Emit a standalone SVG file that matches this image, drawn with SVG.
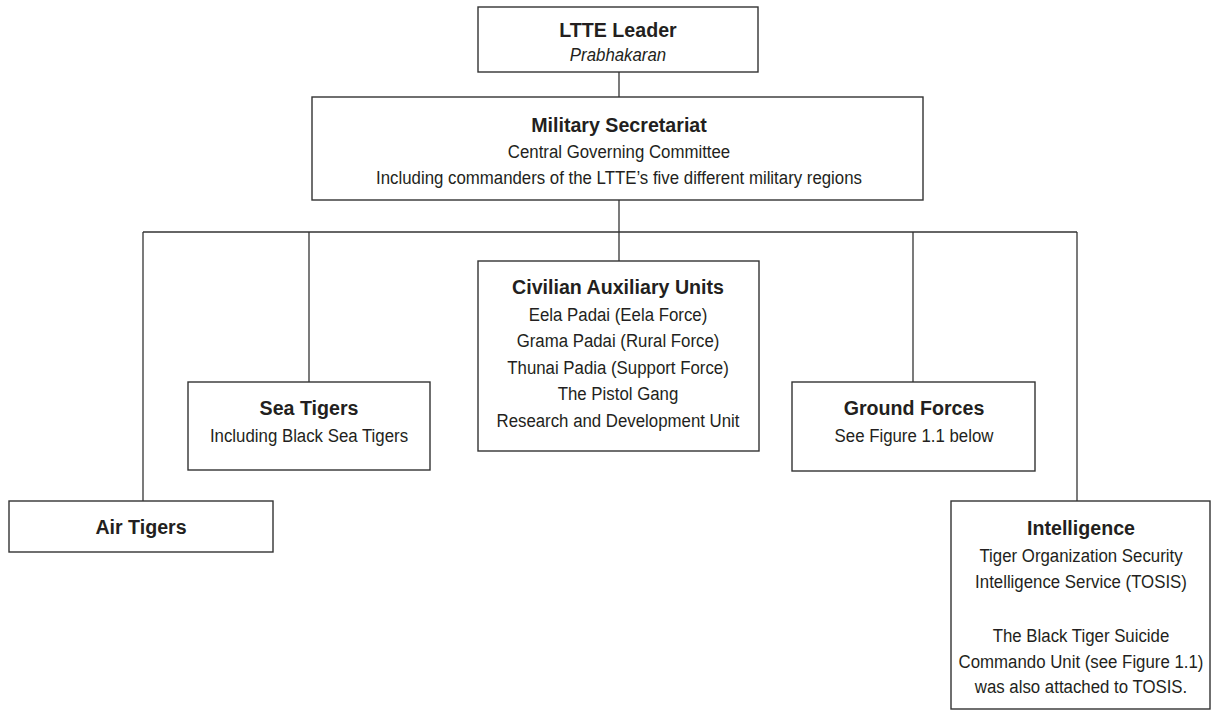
<svg xmlns="http://www.w3.org/2000/svg" width="1211" height="711" viewBox="0 0 1211 711">
<style>
rect.box{fill:#fff;stroke:#333;stroke-width:1.4}
.conn line{stroke:#333;stroke-width:1.3}
text{font-family:"Liberation Sans",Arial,sans-serif;fill:#231f20;text-anchor:middle;font-size:19px;transform:scaleX(0.885)}
text.t{font-weight:bold;font-size:21px;transform:scaleX(0.935)}
.i{font-style:italic}
</style>
<rect width="1211" height="711" fill="#fff"/>
<g class="conn">
<line x1="619" y1="72" x2="619" y2="97"/>
<line x1="619" y1="200" x2="619" y2="232"/>
<line x1="143" y1="232" x2="1077" y2="232"/>
<line x1="143" y1="232" x2="143" y2="501"/>
<line x1="309" y1="232" x2="309" y2="382"/>
<line x1="619" y1="232" x2="619" y2="261"/>
<line x1="913" y1="232" x2="913" y2="382"/>
<line x1="1077" y1="232" x2="1077" y2="501"/>
</g>
<g id="leader">
<rect class="box" x="478" y="7" width="280" height="65"/>
<g transform="translate(618,0)">
<text class="t" y="37">LTTE Leader</text>
<text class="i" y="61">Prabhakaran</text>
</g>
</g>
<g id="secretariat">
<rect class="box" x="312" y="97" width="611" height="103"/>
<g transform="translate(619,0)">
<text class="t" y="132">Military Secretariat</text>
<text y="158">Central Governing Committee</text>
<text y="184">Including commanders of the LTTE’s five different military regions</text>
</g>
</g>
<g id="air">
<rect class="box" x="9" y="501" width="264" height="51"/>
<g transform="translate(141,0)">
<text class="t" y="534">Air Tigers</text>
</g>
</g>
<g id="sea">
<rect class="box" x="188" y="382" width="242" height="88"/>
<g transform="translate(309,0)">
<text class="t" y="415">Sea Tigers</text>
<text y="442">Including Black Sea Tigers</text>
</g>
</g>
<g id="civilian">
<rect class="box" x="478" y="261" width="281" height="190"/>
<g transform="translate(618,0)">
<text class="t" y="294">Civilian Auxiliary Units</text>
<text y="321">Eela Padai (Eela Force)</text>
<text y="347.5">Grama Padai (Rural Force)</text>
<text y="374">Thunai Padia (Support Force)</text>
<text y="400.5">The Pistol Gang</text>
<text y="427">Research and Development Unit</text>
</g>
</g>
<g id="ground">
<rect class="box" x="792" y="382" width="243" height="89"/>
<g transform="translate(914,0)">
<text class="t" y="415">Ground Forces</text>
<text y="442">See Figure 1.1 below</text>
</g>
</g>
<g id="intelligence">
<rect class="box" x="951" y="501" width="259" height="208"/>
<g transform="translate(1081,0)">
<text class="t" y="535">Intelligence</text>
<text y="562">Tiger Organization Security</text>
<text y="588">Intelligence Service (TOSIS)</text>
<text y="642">The Black Tiger Suicide</text>
<text y="668">Commando Unit (see Figure 1.1)</text>
<text y="693">was also attached to TOSIS.</text>
</g>
</g>
</svg>
